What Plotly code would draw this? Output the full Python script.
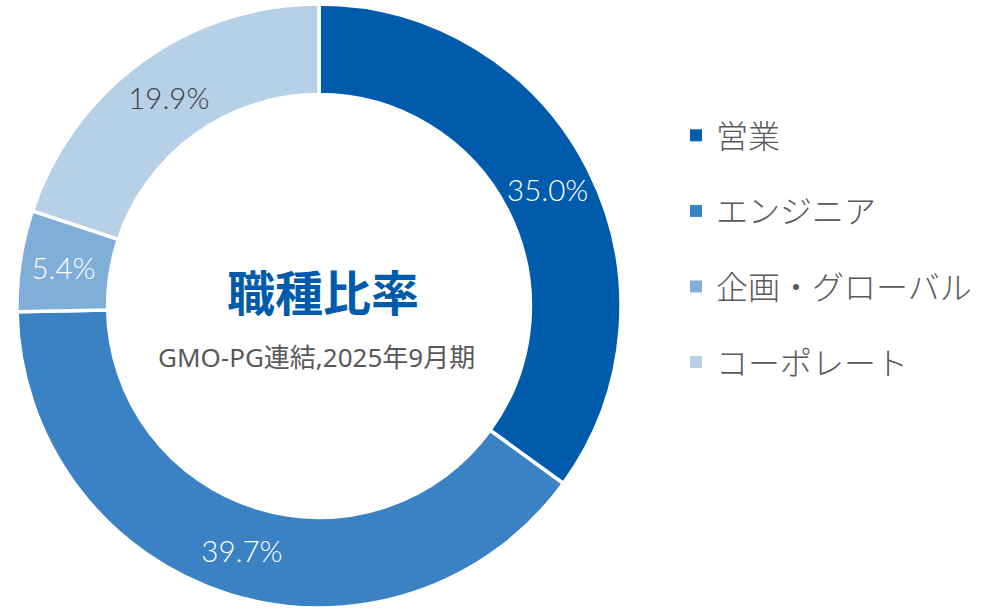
import plotly.graph_objects as go

categories = ["営業", "エンジニア", "企画・グローバル", "コーポレート"]
values = [35.0, 39.7, 5.4, 19.9]
colors = ["#005BAC", "#3A82C3", "#7FAED8", "#B6D0E8"]
text_colors = ["#FFFFFF", "#FFFFFF", "#FFFFFF", "#404040"]
title_text = "職種比率"
subtitle_text = "GMO-PG連結,2025年9月期"

W, H = 986, 611
cx, r = 319, 302
top, bot = 4, 3
PH = H - top - bot
FONT = "Noto Sans, Noto Sans CJK JP"
LABEL_FONT = "Lato"
CJK = "Noto Sans CJK JP"

fig = go.Figure()
fig.add_trace(go.Pie(
    labels=categories, values=values, sort=False, direction="clockwise", rotation=0,
    hole=0.70,
    marker=dict(colors=colors, line=dict(color="#FFFFFF", width=3.5)),
    texttemplate="%{value:.1f}%", textinfo="text", textposition="inside",
    insidetextorientation="horizontal",
    textfont=dict(family=LABEL_FONT, size=29.5, color=text_colors, weight=300),
    showlegend=False, hoverinfo="label+value",
    domain=dict(x=[(cx - r) / W, (cx + r) / W], y=[0.0, 1.0]),
))

for cat, col in zip(categories, colors):
    fig.add_trace(go.Scatter(
        x=[None], y=[None], mode="markers", name=cat, legendgroup=cat,
        marker=dict(symbol="square", size=14, color=col),
    ))

fig.add_annotation(x=(cx + 4) / W, y=1 - (290 - top) / PH, xref="paper", yref="paper",
                   xanchor="center", yanchor="middle",
                   text="<b>" + title_text + "</b>", showarrow=False,
                   font=dict(family=CJK, size=48, color="#005BAC"))
fig.add_annotation(x=(cx - 3) / W, y=1 - (357 - top) / PH, xref="paper", yref="paper",
                   xanchor="center", yanchor="middle",
                   text=subtitle_text, showarrow=False,
                   font=dict(family=FONT, size=26, color="#595959"))

fig.update_layout(
    width=W, height=H,
    margin=dict(l=0, r=0, t=top, b=bot),
    paper_bgcolor="white", plot_bgcolor="white",
    xaxis=dict(visible=False), yaxis=dict(visible=False),
    legend=dict(x=676 / W, y=1 - (108 - top) / PH, xanchor="left", yanchor="top",
                font=dict(family=CJK, size=32, color="#595959", weight=300),
                tracegroupgap=31, itemsizing="constant", bgcolor="rgba(0,0,0,0)"),
)

fig.write_html("out.html", config={"displayModeBar": False},
               post_script="document.body.style.margin='0';")
